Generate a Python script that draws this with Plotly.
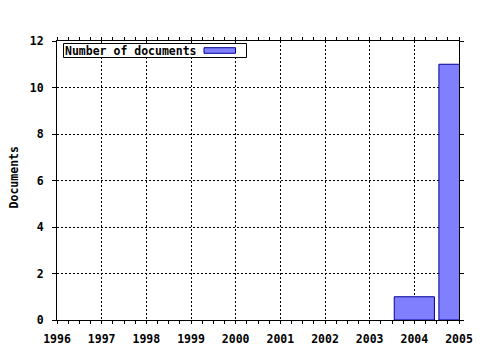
import plotly.graph_objects as go

years = [1996, 1997, 1998, 1999, 2000, 2001, 2002, 2003, 2004, 2005]
documents = [0, 0, 0, 0, 0, 0, 0, 0, 1, 11]
series_name = "Number of documents"
y_title = "Documents"

FONT = "DejaVu Sans Mono"
tick_font = dict(family=FONT, size=11.5, color="black", weight="bold")

fig = go.Figure()
fig.add_trace(go.Bar(
    x=years, y=documents, name=series_name, width=0.9,
    marker=dict(color="#8080ff",
                line=dict(color="#000099", width=[1 if v else 0 for v in documents])),
    showlegend=False,
))

L, R, T, B = 57, 21, 41, 30
W, H = 480, 350
pw, ph = W - L - R, H - T - B

def px(x):
    return (x - L) / pw

def py(y):
    return (H - B - y) / ph

fig.update_layout(
    width=W, height=H,
    margin=dict(l=L, r=R, t=T, b=B, pad=0, autoexpand=False),
    paper_bgcolor="white", plot_bgcolor="white",
    font=dict(family=FONT, size=11.5, color="black"),
    xaxis=dict(
        range=[1996, 2005], dtick=1, tick0=1996, automargin=False,
        showline=True, linecolor="black", linewidth=1, mirror="ticks",
        ticks="outside", ticklen=3, tickcolor="black",
        minor=dict(dtick=0.25, ticks="outside", ticklen=3, tickcolor="black", showgrid=False),
        showgrid=True, gridcolor="black", gridwidth=1, griddash="2px,2px",
        tickfont=tick_font, zeroline=False, fixedrange=True,
        ticklabelstandoff=5,
    ),
    yaxis=dict(
        range=[0, 12], dtick=2, automargin=False,
        showline=True, linecolor="black", linewidth=1, mirror="ticks",
        ticks="outside", ticklen=4, tickcolor="black",
        showgrid=True, gridcolor="black", gridwidth=1, griddash="2px,2px",
        tickfont=tick_font, zeroline=False,
        ticklabelstandoff=6,
    ),
    shapes=[
        dict(type="rect", xref="paper", yref="paper",
             x0=px(63.5), x1=px(246.5), y0=py(57.5), y1=py(43.5),
             line=dict(color="black", width=1), fillcolor="white", layer="above"),
        dict(type="rect", xref="paper", yref="paper",
             x0=px(204), x1=px(235.5), y0=py(53.3), y1=py(47.7),
             line=dict(color="#000099", width=1), fillcolor="#8080ff", layer="above"),
    ],
    annotations=[
        dict(text=series_name, xref="paper", yref="paper",
             x=px(64), y=py(50.5), xanchor="left", yanchor="middle",
             showarrow=False, font=tick_font, borderpad=0),
        dict(text=y_title, xref="paper", yref="paper",
             x=px(13.7), y=py(177.7), xanchor="center", yanchor="middle",
             textangle=-90, showarrow=False, font=tick_font, borderpad=0),
    ],
)

fig.write_html("out.html")
